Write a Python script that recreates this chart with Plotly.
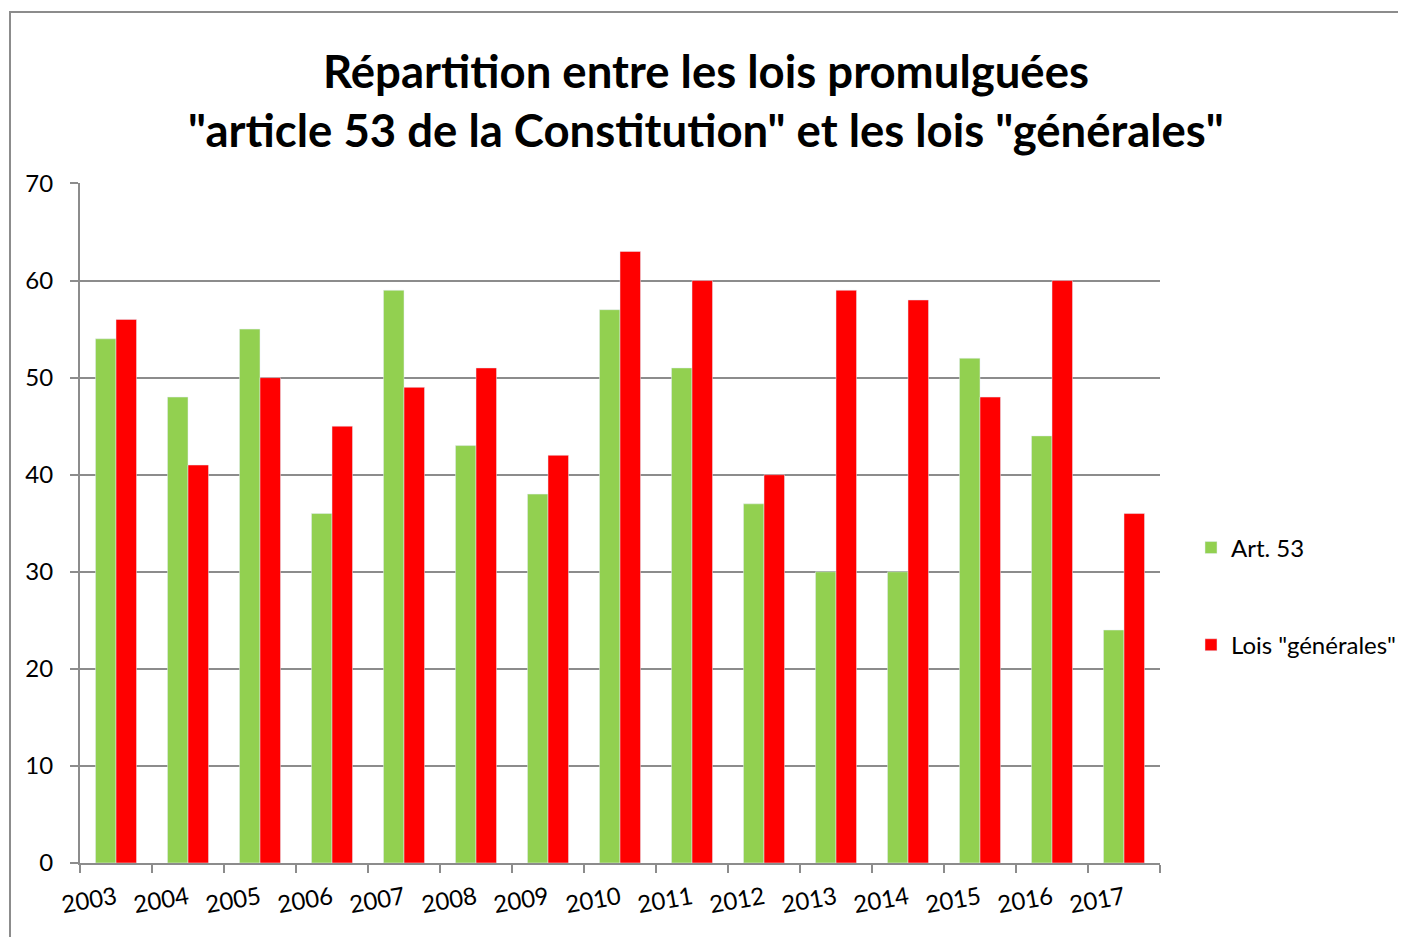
import plotly.graph_objects as go

years = ["2003", "2004", "2005", "2006", "2007", "2008", "2009", "2010",
         "2011", "2012", "2013", "2014", "2015", "2016", "2017"]
art53 = [54, 48, 55, 36, 59, 43, 38, 57, 51, 37, 30, 30, 52, 44, 24]
generales = [56, 41, 50, 45, 49, 51, 42, 63, 60, 40, 59, 58, 48, 60, 36]

FONT = "Lato"
GRID = "#8c8c8c"
W, H = 1398, 929
L, T, PW, PH = 72, 175, 1080, 680

fig = go.Figure()
fig.add_trace(go.Bar(x=years, y=art53, name="Art. 53", marker_color="#92D050",
                     legendgroup="a"))
fig.add_trace(go.Bar(x=years, y=generales, name='Lois "générales"', marker_color="#FF0000",
                     legendgroup="b"))

fig.update_layout(
    width=W, height=H,
    margin=dict(l=L, r=W - L - PW, t=T, b=H - T - PH, pad=0, autoexpand=False),
    plot_bgcolor="white", paper_bgcolor="white",
    bargap=0.43, bargroupgap=0,
    font=dict(family=FONT, color="black", size=24),
    title=dict(
        text="<b>Répartition entre les lois promulguées<br>\"article 53 de la Constitution\" et les lois \"générales\"</b>",
        x=(698 - L) / PW, xref="paper", xanchor="center",
        y=1 - 80 / H, yanchor="middle", yref="container",
        font=dict(family=FONT, size=45.5, color="black"),
    ),
    legend=dict(x=1183 / W, xref="container", xanchor="left", y=0.392, yanchor="middle",
                font=dict(size=24), tracegroupgap=63, itemwidth=30),
    xaxis=dict(showline=True, linecolor=GRID, linewidth=2, ticks="outside",
               tickson="boundaries", ticklen=8, tickcolor=GRID, tickwidth=2,
               tickangle=-10, tickfont=dict(size=24), showgrid=False,
               ticklabelstandoff=10),
    yaxis=dict(range=[0, 70.05], dtick=10, showline=True, linecolor=GRID, linewidth=2,
               ticks="outside", ticklen=8, tickcolor=GRID, tickwidth=2,
               showgrid=True, gridcolor=GRID, gridwidth=2, zeroline=False,
               tickfont=dict(size=24), ticklabelstandoff=12),
    shapes=[dict(type="rect", xref="paper", yref="paper",
                 x0=(2 - L) / PW, x1=1.6, y0=-0.5, y1=(T + PH - 4) / PH,
                 line=dict(color="#8c8c8c", width=2), fillcolor="rgba(0,0,0,0)",
                 layer="below")],
)

fig.write_html("out.html")
